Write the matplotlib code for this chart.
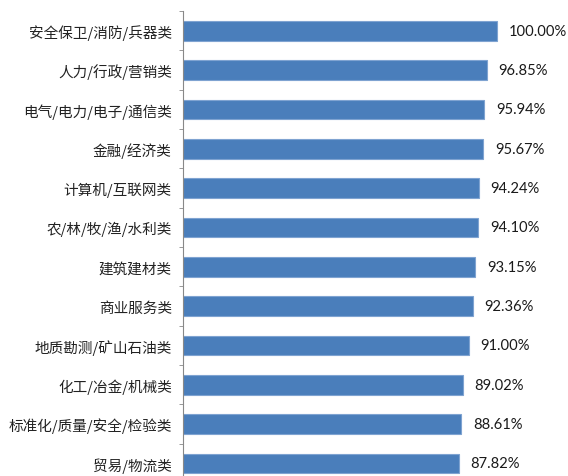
import matplotlib
matplotlib.use("Agg")
import matplotlib.pyplot as plt
import numpy as np

categories = ["安全保卫/消防/兵器类", "人力/行政/营销类", "电气/电力/电子/通信类", "金融/经济类",
              "计算机/互联网类", "农/林/牧/渔/水利类", "建筑建材类", "商业服务类",
              "地质勘测/矿山石油类", "化工/冶金/机械类", "标准化/质量/安全/检验类", "贸易/物流类"]
values = [100.00, 96.85, 95.94, 95.67, 94.24, 94.10, 93.15, 92.36, 91.00, 89.02, 88.61, 87.82]

plt.rcParams['font.family'] = ['Noto Sans CJK SC', 'DejaVu Sans']

fig = plt.figure(figsize=(5.68, 4.77), dpi=100)
ax = fig.add_axes([183/568, -7/477, (568-183)/568, (484-12)/477])

n = len(categories)
y = np.arange(n)
ax.barh(y, values, height=0.5, color='#4A7EBB', edgecolor='#7FA3D1', linewidth=0.8)
ax.set_ylim(n - 0.5, -0.5)
ax.set_xlim(0, (568-183)/3.14)

for yi, v in zip(y, values):
    ax.text(v + 3.7, yi, f"{v:.2f}%", va='center', ha='left', fontsize=10.6,
            family=['Lato', 'DejaVu Sans'], color='#1a1a1a')

ax.set_yticks(y)
ax.set_yticklabels(categories, fontsize=10.5, color='#222222')
ax.set_yticks(np.arange(-0.5, n, 1), minor=True)
ax.tick_params(axis='y', which='major', length=0, pad=8)
ax.tick_params(axis='y', which='minor', length=3, color='#888888', direction='out')
ax.set_xticks([])
for s in ['top', 'right', 'bottom']:
    ax.spines[s].set_visible(False)
ax.spines['left'].set_color('#888888')
ax.spines['left'].set_linewidth(0.8)

fig.savefig("out.png", dpi=100)
